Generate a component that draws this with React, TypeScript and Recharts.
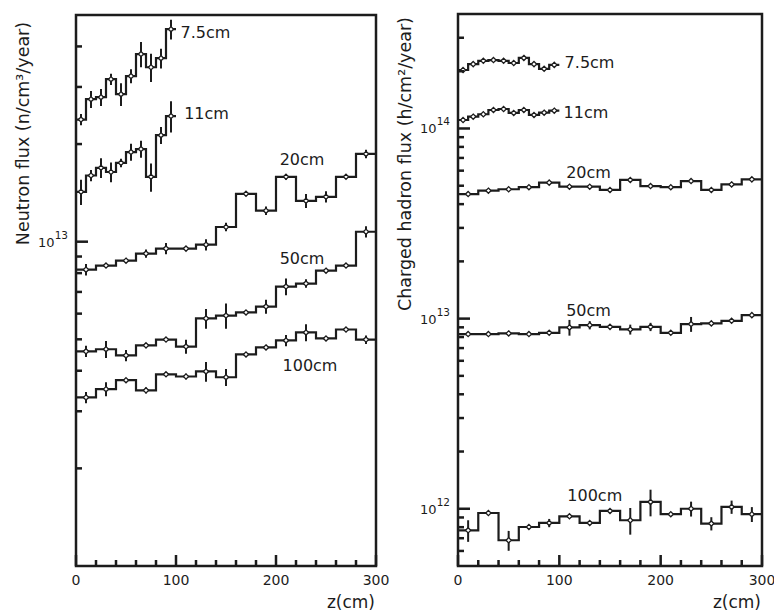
import React from "react";
import {
  ComposedChart,
  Line,
  Scatter,
  ErrorBar,
  XAxis,
  YAxis,
  ReferenceArea,
  ReferenceDot,
} from "recharts";

const INK = "#1c1c1c";
const FONT = "DejaVu Sans, sans-serif";

// bin edges along z (cm)
const EDGES_10 = [0, 10, 20, 30, 40, 50, 60, 70, 80, 90, 100];
const EDGES_20 = [0, 20, 40, 60, 80, 100, 120, 140, 160, 180, 200, 220, 240, 260, 280, 300];

// neutron flux per bin, left panel
const N_75 = [2.38e13, 2.75e13, 2.79e13, 3.17e13, 2.85e13, 3.24e13, 3.79e13, 3.45e13, 3.68e13, 4.52e13];
const N_75_ERR = [4, 6, 6, 4, 8, 5, 9, 10, 7, 7];
const N_11 = [1.425e13, 1.6e13, 1.69e13, 1.64e13, 1.75e13, 1.89e13, 1.93e13, 1.585e13, 2.13e13, 2.44e13];
const N_11_ERR = [9, 4, 7, 7, 3, 6, 6, 10, 6, 11];
const N_20 = [8.2e12, 8.44e12, 8.74e12, 9.19e12, 9.52e12, 9.52e12, 9.79e12, 1.11e13, 1.405e13, 1.246e13, 1.585e13, 1.337e13, 1.375e13, 1.585e13, 1.865e13];
const N_20_ERR = [4, 1, 1, 3, 4, 1, 4, 3, 1.5, 3, 2, 5, 4, 1.5, 3];
const N_50 = [4.59e12, 4.66e12, 4.46e12, 4.79e12, 4.99e12, 4.75e12, 5.8e12, 5.92e12, 6.05e12, 6.31e12, 7.27e12, 7.43e12, 8.14e12, 8.44e12, 1.073e13];
const N_50_ERR = [4, 6, 4, 1, 1.5, 5, 7, 9, 1, 5, 6, 3, 1, 1, 4];
const N_100 = [3.31e12, 3.51e12, 3.74e12, 3.48e12, 3.9e12, 3.84e12, 3.98e12, 3.82e12, 4.49e12, 4.72e12, 4.96e12, 5.25e12, 5.03e12, 5.36e12, 4.99e12];
const N_100_ERR = [4, 5, 1.5, 2, 1, 2, 7, 6, 1, 1.5, 4, 6, 1.5, 1.5, 3];

// charged hadron flux per bin, right panel
const H_75 = [2.03e14, 2.18e14, 2.27e14, 2.29e14, 2.27e14, 2.21e14, 2.35e14, 2.18e14, 2.06e14, 2.16e14];
const H_75_ERR = [1, 1, 1, 1, 1, 1, 1, 1, 1, 1];
const H_11 = [1.108e14, 1.154e14, 1.188e14, 1.251e14, 1.266e14, 1.207e14, 1.251e14, 1.178e14, 1.211e14, 1.241e14];
const H_11_ERR = [1, 1, 1, 1, 1, 1, 1, 1, 1, 1];
const H_20 = [4.52e13, 4.71e13, 4.79e13, 4.91e13, 5.19e13, 4.94e13, 4.94e13, 4.75e13, 5.36e13, 4.98e13, 4.91e13, 5.29e13, 4.75e13, 5.08e13, 5.4e13];
const H_20_ERR = [1.5, 1, 1, 1, 1.5, 1, 1, 1, 1.5, 1, 1, 1.5, 1, 1, 1];
const H_50 = [8.29e12, 8.29e12, 8.36e12, 8.29e12, 8.42e12, 8.99e12, 9.24e12, 9.05e12, 8.77e12, 9.05e12, 8.42e12, 9.36e12, 9.44e12, 9.74e12, 1.043e13];
const H_50_ERR = [1, 1, 1, 1, 1.5, 9.5, 5, 1, 6, 5, 1, 9, 1, 1, 1.5];
const H_100 = [7.7e11, 9.5e11, 6.83e11, 8.02e11, 8.42e11, 9.13e11, 8.42e11, 9.74e11, 8.7e11, 1.086e12, 9.36e11, 1.0e12, 8.36e11, 1.022e12, 9.36e11];
const H_100_ERR = [13, 2, 12, 2, 5, 2, 2, 2, 16, 16, 2, 9, 8, 8, 9];

// axis ticks
const X_TICKS = [0, 20, 40, 60, 80, 100, 120, 140, 160, 180, 200, 220, 240, 260, 280, 300];
const X_LABELS = [0, 100, 200, 300];
const LEFT_Y_TICKS = [2e12, 3e12, 4e12, 5e12, 6e12, 7e12, 8e12, 9e12, 1e13, 2e13, 3e13, 4e13];
const LEFT_Y_LABELS = [1e13];
const RIGHT_Y_TICKS = [
  6e11, 7e11, 8e11, 9e11, 1e12, 2e12, 3e12, 4e12, 5e12, 6e12, 7e12, 8e12, 9e12,
  1e13, 2e13, 3e13, 4e13, 5e13, 6e13, 7e13, 8e13, 9e13, 1e14, 2e14, 3e14,
];
const RIGHT_Y_LABELS = [1e12, 1e13, 1e14];

type Series = {
  name: string;
  edges: number[];
  vals: number[];
  errs: number[];
  lx: number;
  ly: number;
};

function steps(edges: number[], vals: number[]) {
  const pts = vals.map((v, i) => ({ x: edges[i], y: v }));
  pts.push({ x: edges[vals.length], y: vals[vals.length - 1] });
  return pts;
}

function centers(edges: number[], vals: number[], errs: number[]) {
  return vals.map((v, i) => ({
    x: (edges[i] + edges[i + 1]) / 2,
    y: v,
    e: (v * errs[i]) / 100,
  }));
}

function Diamond(props: any) {
  const { cx, cy } = props;
  if (cx == null || cy == null) return null;
  const r = 2.6;
  return (
    <path
      d={`M${cx},${cy - r}L${cx + r},${cy}L${cx},${cy + r}L${cx - r},${cy}Z`}
      fill="#fff"
      stroke={INK}
      strokeWidth={1.3}
    />
  );
}

// inward tick mark + label under the axis
function XTick(props: any) {
  const { x, y, payload } = props;
  const v = payload.value;
  const major = X_LABELS.includes(v);
  const len = major ? 11 : 6;
  return (
    <g>
      <rect x={x - 1.25} y={y - len} width={2.5} height={len} fill={INK} />
      {major && (
        <text x={x} y={y + 19} textAnchor="middle" fontSize={14} fontFamily={FONT} fill={INK}>
          {v}
        </text>
      )}
    </g>
  );
}

function YTick(props: any) {
  const { x, y, payload, labels } = props;
  const v = payload.value;
  const exp = Math.round(Math.log10(v));
  const isDecade = Math.abs(v / Math.pow(10, exp) - 1) < 1e-6;
  const len = isDecade ? 12 : 6;
  return (
    <g>
      <rect x={x} y={y - 1.25} width={len} height={2.5} fill={INK} />
      {labels.includes(v) && (
        <text x={x - 8} y={y + 5} textAnchor="end" fontFamily={FONT} fill={INK}>
          <tspan fontSize={13}>10</tspan>
          <tspan fontSize={10.5} dy={-8}>{exp}</tspan>
        </text>
      )}
    </g>
  );
}

type PanelProps = {
  width: number;
  margin: { top: number; right: number; bottom: number; left: number };
  yWidth: number;
  yDomain: [number, number];
  yTicks: number[];
  yLabels: number[];
  title: string;
  titleX: number;
  titleY: number;
  series: Series[];
};

function Panel(p: PanelProps) {
  return (
    <ComposedChart width={p.width} height={613} margin={p.margin}>
      <XAxis
        type="number"
        dataKey="x"
        domain={[0, 300]}
        ticks={X_TICKS}
        interval={0}
        height={47}
        tickSize={0}
        tickMargin={0}
        axisLine={false}
        tickLine={false}
        tick={(t: any) => <XTick {...t} />}
        label={(l: any) => {
          const vb = l.viewBox || {};
          return (
            <text
              x={vb.x + vb.width - 1}
              y={vb.y + vb.height - 5}
              textAnchor="end"
              fontSize={17}
              fontFamily={FONT}
              fill={INK}
            >
              z(cm)
            </text>
          );
        }}
      />
      <YAxis
        type="number"
        dataKey="y"
        scale="log"
        domain={p.yDomain}
        allowDataOverflow
        ticks={p.yTicks}
        interval={0}
        width={p.yWidth}
        tickSize={0}
        tickMargin={0}
        axisLine={false}
        tickLine={false}
        tick={(t: any) => <YTick {...t} labels={p.yLabels} />}
        label={() => (
          <text
            x={p.titleX}
            y={p.titleY}
            transform={`rotate(-90 ${p.titleX} ${p.titleY})`}
            textAnchor="middle"
            fontSize={17.5}
            fontFamily={FONT}
            fill={INK}
          >
            {p.title}
          </text>
        )}
      />
      <ReferenceArea
        x1={0}
        x2={300}
        y1={p.yDomain[0]}
        y2={p.yDomain[1]}
        fill="none"
        stroke={INK}
        strokeWidth={2.5}
        ifOverflow="visible"
      />
      {p.series.map((s) => (
        <Line
          key={`h-${s.name}`}
          data={steps(s.edges, s.vals)}
          dataKey="y"
          type="stepAfter"
          stroke={INK}
          strokeWidth={2.2}
          dot={false}
          activeDot={false}
          isAnimationActive={false}
        />
      ))}
      {p.series.map((s) => (
        <Scatter
          key={`m-${s.name}`}
          data={centers(s.edges, s.vals, s.errs)}
          shape={(d: any) => <Diamond {...d} />}
          isAnimationActive={false}
        >
          <ErrorBar dataKey="e" direction="y" width={0} stroke={INK} strokeWidth={2} isAnimationActive={false} />
        </Scatter>
      ))}
      {p.series.map((s) => (
        <ReferenceDot
          key={`l-${s.name}`}
          x={s.lx}
          y={s.ly}
          r={0}
          fill="none"
          stroke="none"
          label={{ value: s.name, position: "center", fontSize: 16, fill: INK, fontFamily: FONT }}
        />
      ))}
    </ComposedChart>
  );
}

const LEFT_SERIES: Series[] = [
  { name: "7.5cm", edges: EDGES_10, vals: N_75, errs: N_75_ERR, lx: 129.5, ly: 4.43e13 },
  { name: "11cm", edges: EDGES_10, vals: N_11, errs: N_11_ERR, lx: 130.5, ly: 2.48e13 },
  { name: "20cm", edges: EDGES_20, vals: N_20, errs: N_20_ERR, lx: 226, ly: 1.8e13 },
  { name: "50cm", edges: EDGES_20, vals: N_50, errs: N_50_ERR, lx: 226, ly: 8.87e12 },
  { name: "100cm", edges: EDGES_20, vals: N_100, errs: N_100_ERR, lx: 234, ly: 4.15e12 },
];

const RIGHT_SERIES: Series[] = [
  { name: "7.5cm", edges: EDGES_10, vals: H_75, errs: H_75_ERR, lx: 129.8, ly: 2.24e14 },
  { name: "11cm", edges: EDGES_10, vals: H_11, errs: H_11_ERR, lx: 126.3, ly: 1.22e14 },
  { name: "20cm", edges: EDGES_20, vals: H_20, errs: H_20_ERR, lx: 128.8, ly: 5.9e13 },
  { name: "50cm", edges: EDGES_20, vals: H_50, errs: H_50_ERR, lx: 128.8, ly: 1.108e13 },
  { name: "100cm", edges: EDGES_20, vals: H_100, errs: H_100_ERR, lx: 135, ly: 1.178e12 },
];

export default function App() {
  return (
    <div
      style={{
        position: "absolute",
        left: 0,
        top: 0,
        width: 774,
        height: 613,
        background: "#fff",
        overflow: "hidden",
        fontFamily: FONT,
      }}
    >
      <div style={{ position: "absolute", left: 0, top: 0 }}>
        <Panel
          width={390}
          margin={{ top: 15, right: 14, bottom: 0, left: 16 }}
          yWidth={60}
          yDomain={[1e12, 5e13]}
          yTicks={LEFT_Y_TICKS}
          yLabels={LEFT_Y_LABELS}
          title="Neutron flux (n/cm³/year)"
          titleX={29}
          titleY={133.5}
          series={LEFT_SERIES}
        />
      </div>
      <div style={{ position: "absolute", left: 390, top: 0 }}>
        <Panel
          width={384}
          margin={{ top: 14, right: 12, bottom: 0, left: 8 }}
          yWidth={60}
          yDomain={[5e11, 4e14]}
          yTicks={RIGHT_Y_TICKS}
          yLabels={RIGHT_Y_LABELS}
          title="Charged hadron flux (h/cm²/year)"
          titleX={21}
          titleY={164}
          series={RIGHT_SERIES}
        />
      </div>
    </div>
  );
}
